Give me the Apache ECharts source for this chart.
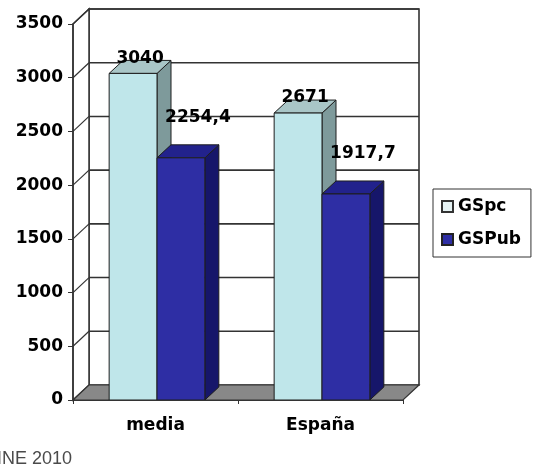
<!DOCTYPE html>
<html>
<head>
<meta charset="utf-8">
<script src="https://cdn.jsdelivr.net/npm/echarts@6/dist/echarts.min.js"></script>
<style>
  html, body { margin: 0; padding: 0; background: #fff; }
  #chart { width: 535px; height: 476px; }
</style>
</head>
<body>
<div id="chart"></div>
<script>
// Gasto sanitario: media vs España
const categories = ['media', 'España'];
const seriesNames = ['GSpc', 'GSPub'];
const gspcValues = [3040, 2671];
const gspubValues = [2254.4, 1917.7];
const yTicks = [0, 500, 1000, 1500, 2000, 2500, 3000, 3500];
const sourceNote = 'INE 2010';

// Depth of the 3D box (walls/floor) and of each bar, in pixels
const WALL_DX = 16, WALL_DY = -15;
const BAR_DX = 14, BAR_DY = -13;
const FONT = 'DejaVu Sans';

const palette = {
  GSpc:  { front: '#bfe6ea', top: '#a9c6c7', side: '#7e9a9b', label: [7, -15] },
  GSPub: { front: '#2e2ea4', top: '#22228c', side: '#16166a', label: [17, -40] }
};

function fmt(v) {
  return String(v).replace('.', ',');
}

// Back wall, side wall, floor and gridlines of the 3D frame
function renderFrame(params, api) {
  const cs = params.coordSys;
  const x0 = cs.x, x1 = cs.x + cs.width;
  const yBase = api.coord([0, 0])[1];
  const yTop = api.coord([0, yTicks[yTicks.length - 1]])[1];
  const line = '#333';
  const children = [];
  // back wall
  children.push({
    type: 'polygon',
    shape: { points: [[x0 + WALL_DX, yTop + WALL_DY], [x1 + WALL_DX, yTop + WALL_DY],
                      [x1 + WALL_DX, yBase + WALL_DY], [x0 + WALL_DX, yBase + WALL_DY]] },
    style: { fill: '#fff', stroke: line, lineWidth: 1.6 }
  });
  // left side wall
  children.push({
    type: 'polygon',
    shape: { points: [[x0, yTop], [x0 + WALL_DX, yTop + WALL_DY],
                      [x0 + WALL_DX, yBase + WALL_DY], [x0, yBase]] },
    style: { fill: '#fff', stroke: line, lineWidth: 1.5 }
  });
  // gridlines on the back and side walls
  yTicks.forEach(function (t) {
    if (t === 0) return;
    const y = api.coord([0, t])[1];
    children.push({
      type: 'line',
      shape: { x1: x0 + WALL_DX, y1: y + WALL_DY, x2: x1 + WALL_DX, y2: y + WALL_DY },
      style: { stroke: line, lineWidth: 1.6 }
    });
    children.push({
      type: 'line',
      shape: { x1: x0, y1: y, x2: x0 + WALL_DX, y2: y + WALL_DY },
      style: { stroke: line, lineWidth: 1.2 }
    });
  });
  // floor
  children.push({
    type: 'polygon',
    shape: { points: [[x0, yBase], [x1, yBase], [x1 + WALL_DX, yBase + WALL_DY], [x0 + WALL_DX, yBase + WALL_DY]] },
    style: { fill: '#888', stroke: '#333', lineWidth: 1.2 }
  });
  return { type: 'group', children: children };
}

// One 3D column: front face, top face, right side face and value label
function makeBarRenderer(name, idx) {
  const col = palette[name];
  return function (params, api) {
    const cat = api.value(0);
    const val = api.value(1);
    const top = api.coord([cat, val]);
    const base = api.coord([cat, 0]);
    const band = api.size([1, 0])[0];
    const w = band * 0.29;
    const x = top[0] - w + 1.5 + idx * w;
    const yT = top[1], yB = base[1];
    const stroke = '#1e1e1e';
    return {
      type: 'group',
      children: [
        {
          type: 'polygon',
          shape: { points: [[x + w, yT], [x + w + BAR_DX, yT + BAR_DY], [x + w + BAR_DX, yB + BAR_DY], [x + w, yB]] },
          style: { fill: col.side, stroke: stroke, lineWidth: 1 }
        },
        {
          type: 'polygon',
          shape: { points: [[x, yT], [x + BAR_DX, yT + BAR_DY], [x + w + BAR_DX, yT + BAR_DY], [x + w, yT]] },
          style: { fill: col.top, stroke: stroke, lineWidth: 1 }
        },
        {
          type: 'rect',
          shape: { x: x, y: yT, width: w, height: yB - yT },
          style: { fill: col.front, stroke: stroke, lineWidth: 1 }
        },
        {
          type: 'text',
          z2: 10,
          style: {
            text: fmt(val),
            x: x + w / 2 + col.label[0],
            y: yT + col.label[1],
            align: 'center',
            verticalAlign: 'middle',
            font: 'bold 17px "' + FONT + '"',
            fill: '#000'
          }
        }
      ]
    };
  };
}

const chart = echarts.init(document.getElementById('chart'), null, { renderer: 'canvas' });

const option = {
  backgroundColor: '#fff',
  animation: false,
  grid: { left: 73, right: 132, top: 24, bottom: 76 },
  legend: {
    orient: 'vertical',
    left: 433,
    top: 189,
    data: seriesNames,
    icon: 'rect',
    itemWidth: 11,
    itemHeight: 11,
    itemGap: 16,
    padding: [9, 10, 9, 8],
    borderColor: '#333',
    borderWidth: 1,
    textStyle: { fontFamily: FONT, fontWeight: 'bold', fontSize: 17, color: '#000' }
  },
  xAxis: {
    type: 'category',
    data: categories,
    z: 5,
    axisLine: { show: true, lineStyle: { color: '#333', width: 1.2 } },
    axisTick: { show: true, length: 4, lineStyle: { color: '#333' } },
    axisLabel: { margin: 17, fontFamily: FONT, fontWeight: 'bold', fontSize: 17, color: '#000' }
  },
  yAxis: {
    type: 'value',
    min: 0,
    max: 3500,
    interval: 500,
    z: 5,
    axisLine: { show: true, lineStyle: { color: '#333', width: 1.5 } },
    axisTick: { show: true, length: 5, lineStyle: { color: '#333' } },
    splitLine: { show: false },
    axisLabel: {
      margin: 10,
      fontFamily: FONT,
      fontWeight: 'bold',
      fontSize: 17,
      color: '#000',
      formatter: function (v) { return String(v); }
    }
  },
  graphic: [{
    type: 'text',
    right: 535 - 72,
    top: 450,
    style: { text: sourceNote, font: '18px "Liberation Sans"', fill: '#4a4a4a' }
  }],
  series: [
    {
      type: 'custom',
      name: 'frame',
      z: 1,
      silent: true,
      data: [[0, 0]],
      renderItem: renderFrame
    },
    {
      type: 'custom',
      name: 'GSpc',
      z: 3,
      itemStyle: { color: '#e6f3f4', borderColor: '#333', borderWidth: 1 },
      data: categories.map(function (c, i) { return [i, gspcValues[i]]; }),
      encode: { x: 0, y: 1 },
      renderItem: makeBarRenderer('GSpc', 0)
    },
    {
      type: 'custom',
      name: 'GSPub',
      z: 4,
      itemStyle: { color: '#2e2ea4', borderColor: '#222', borderWidth: 1 },
      data: categories.map(function (c, i) { return [i, gspubValues[i]]; }),
      encode: { x: 0, y: 1 },
      renderItem: makeBarRenderer('GSPub', 1)
    }
  ]
};

chart.setOption(option);
</script>
</body>
</html>
